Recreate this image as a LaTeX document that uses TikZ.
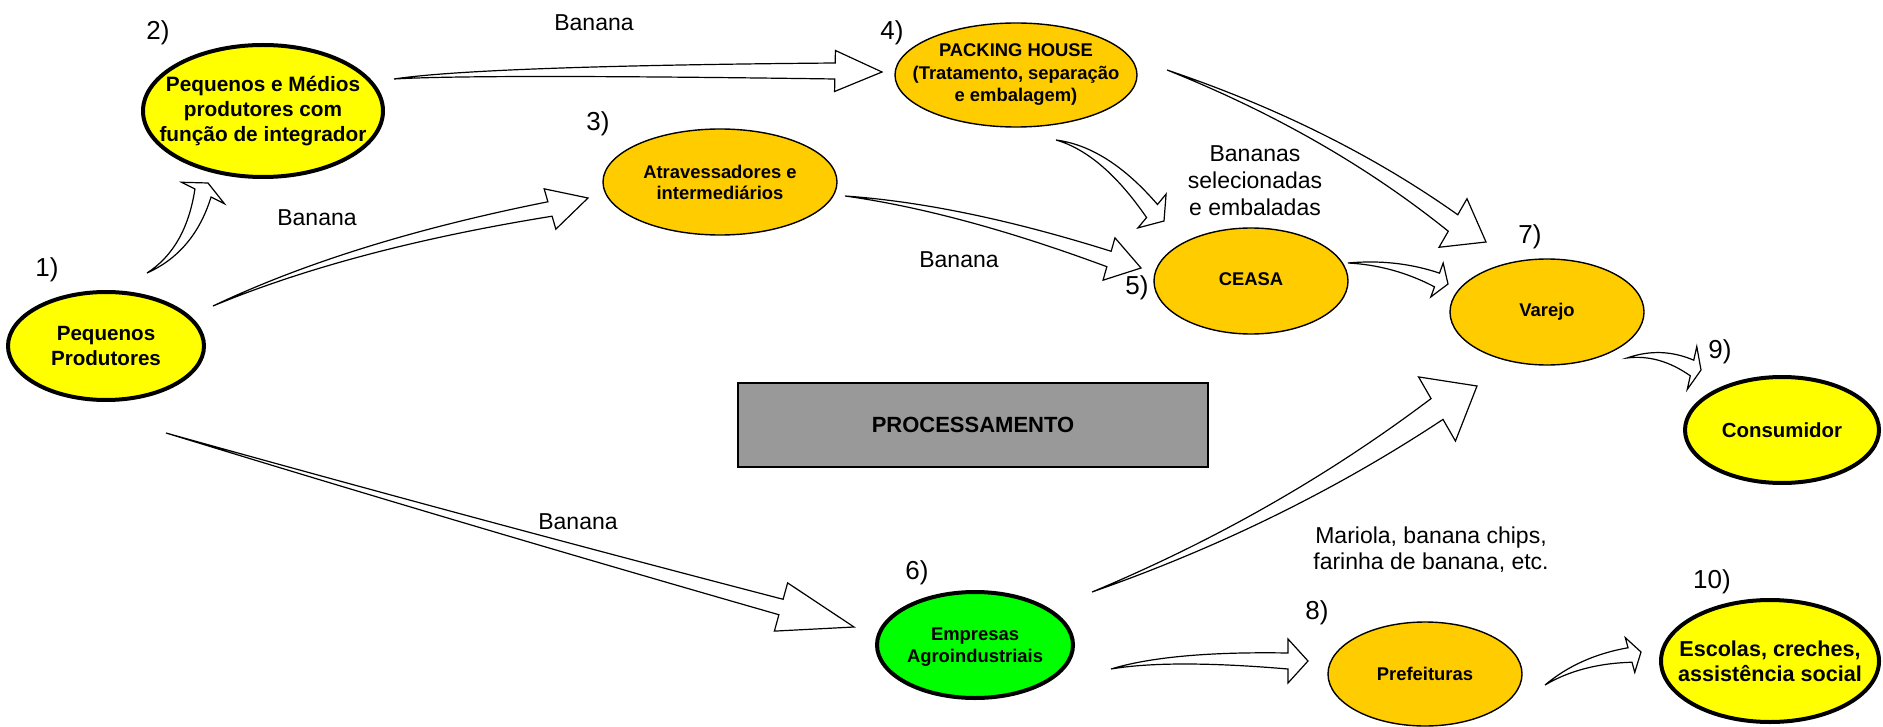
\documentclass[tikz,border=0pt]{standalone}
\usepackage{fontspec}
\setmainfont{Liberation Sans}
\usetikzlibrary{calc,shapes.geometric}
\definecolor{yel}{HTML}{FFFF00}
\definecolor{org}{HTML}{FFCC00}
\definecolor{grn}{HTML}{00FF00}
\definecolor{gry}{HTML}{999999}
\tikzset{
 thickell/.style={ellipse, draw=black, line width=2pt, inner sep=0pt},
 thinell/.style={ellipse, draw=black, line width=0.7pt, inner sep=0pt},
 nodetxt/.style={font=\bfseries\fontsize{9.2}{11.25}\selectfont, align=center, inner sep=0pt},
 numlbl/.style={font=\fontsize{13}{15}\selectfont, inner sep=0pt},
 flowlbl/.style={font=\fontsize{11.5}{13.5}\selectfont, align=center, inner sep=0pt},
 barrow/.style={draw=black, fill=white, line width=0.6pt, line join=miter},
}
% name, tail, control, head base, tip, shaft half-width (px), head half-width (px)
\newcommand{\blockarrow}[7]{%
  \coordinate (#1-t) at #2;
  \coordinate (#1-c) at #3;
  \coordinate (#1-b) at #4;
  \coordinate (#1-h) at #5;
  \coordinate (#1-l) at ($(#1-b)!#6*0.5pt!90:(#1-h)$);
  \coordinate (#1-r) at ($(#1-b)!#6*0.5pt!-90:(#1-h)$);
  \coordinate (#1-ll) at ($(#1-b)!#7*0.5pt!90:(#1-h)$);
  \coordinate (#1-rr) at ($(#1-b)!#7*0.5pt!-90:(#1-h)$);
  \coordinate (#1-cl) at ($(#1-c)+0.5*(#1-l)-0.5*(#1-b)$);
  \coordinate (#1-cr) at ($(#1-c)+0.5*(#1-r)-0.5*(#1-b)$);
  \draw[barrow] (#1-t) .. controls ($(#1-t)!2/3!(#1-cl)$) and ($(#1-l)!2/3!(#1-cl)$) .. (#1-l)
     -- (#1-ll) -- (#1-h) -- (#1-rr) -- (#1-r)
     .. controls ($(#1-r)!2/3!(#1-cr)$) and ($(#1-t)!2/3!(#1-cr)$) .. (#1-t) -- cycle;
}
\begin{document}
\begin{tikzpicture}[x=0.5pt,y=-0.5pt]
\useasboundingbox (0,0) rectangle (1883,727);

% nodes (ellipses)
\node[thickell, fill=yel, minimum width=98pt, minimum height=54pt] (n1) at (106,346) {};
\node[thickell, fill=yel, minimum width=120pt, minimum height=66pt] (n2) at (263,111) {};
\node[thinell, fill=org, minimum width=117pt, minimum height=53pt] (n3) at (720,182) {};
\node[thinell, fill=org, minimum width=121pt, minimum height=52pt] (n4) at (1016,75) {};
\node[thinell, fill=org, minimum width=97pt, minimum height=53pt] (n5) at (1251,281) {};
\node[thickell, fill=grn, minimum width=98pt, minimum height=53pt] (n6) at (975,645) {};
\node[thinell, fill=org, minimum width=97pt, minimum height=53pt] (n7) at (1547,312) {};
\node[thinell, fill=org, minimum width=97pt, minimum height=52pt] (n8) at (1425,674) {};
\node[thickell, fill=yel, minimum width=97pt, minimum height=53pt] (n9) at (1782,430) {};
\node[thickell, fill=yel, minimum width=109pt, minimum height=61pt] (n10) at (1770,661) {};

% node texts
\node[nodetxt, font=\bfseries\fontsize{10.3}{12.5}\selectfont] (t1) at (n1) {Pequenos\\Produtores};
\node[nodetxt, font=\bfseries\fontsize{10.4}{12.5}\selectfont] (t2) at (n2) {Pequenos e Médios\\produtores com\\função de integrador};
\node[nodetxt, font=\bfseries\fontsize{9.2}{10.5}\selectfont] (t3) at (n3) {Atravessadores e\\intermediários};
\node[nodetxt] (t4) at (n4) {PACKING HOUSE\\(Tratamento, separação\\e embalagem)};
\node[nodetxt] (t5) at ($(n5)+(0,-2)$) {CEASA};
\node[nodetxt, font=\bfseries\fontsize{9.2}{11}\selectfont] (t6) at ($(n6)+(0,2)$) {Empresas\\Agroindustriais};
\node[nodetxt] (t7) at (n7) {Varejo};
\node[nodetxt] (t8) at (n8) {Prefeituras};
\node[nodetxt, font=\bfseries\fontsize{10.2}{12}\selectfont] (t9) at (n9) {Consumidor};
\node[nodetxt, font=\bfseries\fontsize{10.8}{12.5}\selectfont] (t10) at (n10) {Escolas, creches,\\assistência social};

% processing box
\node[draw=black, line width=0.6pt, fill=gry, minimum width=235pt, minimum height=42pt, inner sep=0pt,
      font=\bfseries\fontsize{11}{13}\selectfont] (proc) at (973,425) {PROCESSAMENTO};

% number labels
\node[numlbl] (k1) at (47,270) {1)};
\node[numlbl] (k2) at (158,33) {2)};
\node[numlbl] (k3) at (598,124) {3)};
\node[numlbl] (k4) at (892,33) {4)};
\node[numlbl] (k5) at (1137,288) {5)};
\node[numlbl] (k6) at (917,573) {6)};
\node[numlbl] (k7) at (1530,237) {7)};
\node[numlbl] (k8) at (1317,613) {8)};
\node[numlbl] (k9) at (1720,352) {9)};
\node[numlbl] (k10) at (1712,582) {10)};

% flow labels
\node[flowlbl] (b1) at (594,23) {Banana};
\node[flowlbl] (b2) at (317,218) {Banana};
\node[flowlbl] (b3) at (959,260) {Banana};
\node[flowlbl] (b4) at (578,522) {Banana};
\node[flowlbl] (b5) at (1255,181) {Bananas\\selecionadas\\e embaladas};
\node[flowlbl, font=\fontsize{11.5}{13}\selectfont] (b6) at (1431,550) {Mariola, banana chips,\\farinha de banana, etc.};

% block arrows
\blockarrow{a}{(147,273)}{(190,250)}{(203,193)}{(208,183)}{9}{24}
\blockarrow{b}{(213,306)}{(350,245)}{(550,209)}{(588,198)}{7.5}{21}
\blockarrow{c}{(394,79)}{(480,70)}{(835,71)}{(882,72)}{8}{20.5}
\blockarrow{d}{(845,196)}{(960,208)}{(1109,259)}{(1141,268)}{8}{22}
\blockarrow{e}{(1056,140)}{(1105,150)}{(1152,211)}{(1164,221)}{8.5}{22}
\blockarrow{f}{(1167,70)}{(1330,130)}{(1453,223)}{(1486,242)}{9.5}{28}
\blockarrow{g}{(1348,263)}{(1395,262)}{(1437,280)}{(1448,284)}{7.3}{18}
\blockarrow{h}{(1627,358)}{(1660,350)}{(1692,368)}{(1701,370)}{8}{22}
\blockarrow{i}{(166,433)}{(470,522)}{(781,607)}{(854,627)}{8}{25}
\blockarrow{j}{(1092,592)}{(1280,520)}{(1437,409)}{(1477,386)}{12}{37}
\blockarrow{k}{(1111,669)}{(1170,655)}{(1288,661)}{(1308,661)}{8}{22}
\blockarrow{l}{(1545,685)}{(1580,660)}{(1630,655)}{(1641,652)}{7.5}{18}
\end{tikzpicture}
\end{document}
